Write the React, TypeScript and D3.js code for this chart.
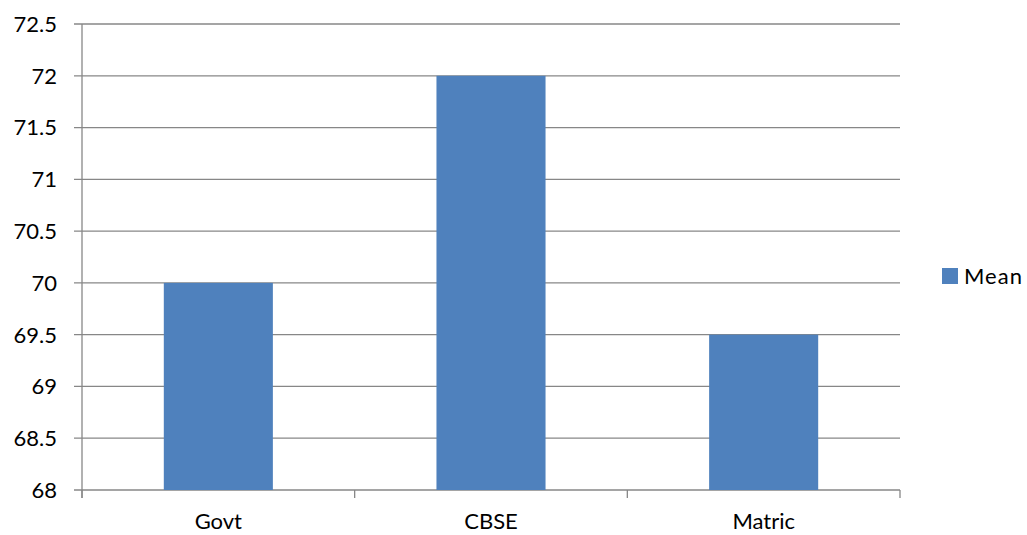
import React from "react";
import * as d3 from "d3";

const categories = ["Govt", "CBSE", "Matric"];
const meanValues = [70, 72, 69.5];
const yTicks = [68, 68.5, 69, 69.5, 70, 70.5, 71, 71.5, 72, 72.5];
const seriesName = "Mean";

const W = 1027;
const H = 535;
const left = 82;
const right = 900;
const top = 24;
const bottom = 490;
const barColor = "#4F81BD";
const gridColor = "#878787";
const font = "Lato, 'Open Sans', sans-serif";
const fs = 22;

export default function App() {
  const x = d3.scaleBand<string>().domain(categories).range([left, right]).paddingInner(0.6).paddingOuter(0.3);
  const xBand = d3.scaleBand<string>().domain(categories).range([left, right]);
  const y = d3.scaleLinear().domain([68, 72.5]).range([bottom, top]);
  const edges = [left, ...categories.map((c) => (xBand(c) as number) + xBand.bandwidth())];

  return (
    <svg width={W} height={H} style={{ position: "absolute", left: 0, top: 0, background: "#fff" }}>
      {yTicks.map((t) => (
        <g key={t}>
          <line x1={left - 8} x2={right} y1={y(t)} y2={y(t)} stroke={gridColor} strokeWidth={1.3} />
          <text x={57} y={y(t)} dy="0.36em" textAnchor="end" fontFamily={font} fontSize={fs} fill="#000">
            {t}
          </text>
        </g>
      ))}
      {categories.map((c, i) => (
        <rect
          key={c}
          x={x(c)}
          y={y(meanValues[i])}
          width={x.bandwidth()}
          height={y(68) - y(meanValues[i])}
          fill={barColor}
        />
      ))}
      <line x1={left} x2={left} y1={top} y2={bottom + 8} stroke={gridColor} strokeWidth={1.3} />
      {edges.map((e, i) => (
        <line key={i} x1={e} x2={e} y1={bottom} y2={bottom + 8} stroke={gridColor} strokeWidth={1.3} />
      ))}
      {categories.map((c) => (
        <text
          key={c}
          x={(xBand(c) as number) + xBand.bandwidth() / 2}
          y={529}
          textAnchor="middle"
          fontFamily={font}
          fontSize={fs}
          fill="#000"
        >
          {c}
        </text>
      ))}
      <rect x={942} y={268} width={16} height={16} fill={barColor} />
      <text x={964} y={284} fontFamily={font} fontSize={fs} letterSpacing={1} fill="#000">
        {seriesName}
      </text>
    </svg>
  );
}
